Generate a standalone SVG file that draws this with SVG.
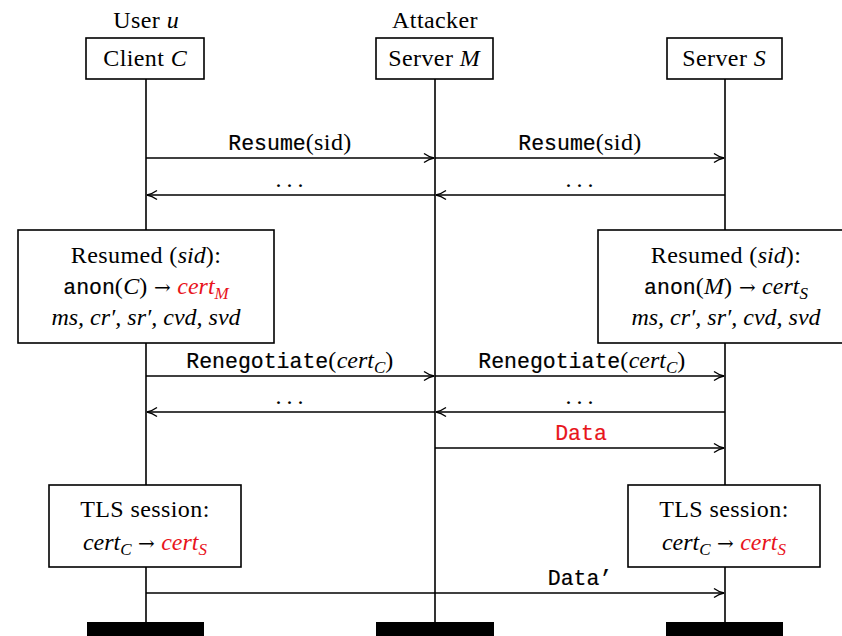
<svg xmlns="http://www.w3.org/2000/svg" width="842" height="636" viewBox="0 0 842 636">
<style>
.t{font-family:"Liberation Serif","DejaVu Serif",serif;font-size:24px;fill:#000;text-anchor:middle;letter-spacing:0.4px}
.i{font-style:italic;letter-spacing:0}
.m{font-family:"Liberation Mono","DejaVu Sans Mono",monospace;font-size:21.5px;letter-spacing:0;stroke:currentColor;stroke-width:0.2}
.r{fill:#e8141c;color:#e8141c}
.k{color:#000}
.a{font-family:"DejaVu Serif",serif;font-size:20px;letter-spacing:0}
.d{letter-spacing:5px}
.box{fill:#fff;stroke:#000;stroke-width:1.6}
.life{stroke:#000;stroke-width:1.6;fill:none}
.arr{stroke:#000;stroke-width:1.4;fill:none;marker-end:url(#ah)}
.sub{font-size:17px}
</style>
<defs>
<marker id="ah" viewBox="0 0 12 12" refX="11" refY="6" markerWidth="12" markerHeight="12" markerUnits="userSpaceOnUse" orient="auto">
<path d="M1,1.5 Q6,5 11,6 Q6,7 1,10.5" fill="none" stroke="#000" stroke-width="1.4"/>
</marker>
</defs>
<rect width="842" height="636" fill="#fff"/>
<g id="lifelines">
<line class="life" x1="146" y1="79" x2="146" y2="622"/>
<line class="life" x1="435" y1="79" x2="435" y2="622"/>
<line class="life" x1="725" y1="79" x2="725" y2="622"/>
</g>
<g id="client">
<text class="t" x="146" y="28">User <tspan class="i">u</tspan></text>
<rect class="box" x="86" y="38" width="118" height="41"/>
<text class="t" x="145" y="66">Client <tspan class="i">C</tspan></text>
<rect x="87" y="622" width="117" height="14" fill="#000"/>
</g>
<g id="attacker">
<text class="t" x="435" y="28">Attacker</text>
<rect class="box" x="376" y="38" width="117" height="41"/>
<text class="t" x="434" y="66">Server <tspan class="i">M</tspan></text>
<rect x="376" y="622" width="118" height="14" fill="#000"/>
</g>
<g id="server">
<rect class="box" x="667" y="38" width="115" height="41"/>
<text class="t" x="724" y="66">Server <tspan class="i">S</tspan></text>
<rect x="666" y="622" width="117" height="14" fill="#000"/>
</g>
<g id="connectors">
<line class="arr" x1="146" y1="158" x2="434" y2="158"/>
<line class="arr" x1="435" y1="158" x2="724" y2="158"/>
<line class="arr" x1="435" y1="195" x2="147" y2="195"/>
<line class="arr" x1="725" y1="195" x2="436" y2="195"/>
<line class="arr" x1="146" y1="376" x2="434" y2="376"/>
<line class="arr" x1="435" y1="376" x2="724" y2="376"/>
<line class="arr" x1="435" y1="412" x2="147" y2="412"/>
<line class="arr" x1="725" y1="412" x2="436" y2="412"/>
<line class="arr" x1="435" y1="448" x2="724" y2="448"/>
<line class="arr" x1="146" y1="593" x2="724" y2="593"/>
<text class="t" x="290" y="150"><tspan class="m k">Resume</tspan>(sid)</text>
<text class="t" x="580" y="150"><tspan class="m k">Resume</tspan>(sid)</text>
<text class="t d" x="292" y="187">...</text>
<text class="t d" x="582" y="187">...</text>
<text class="t" x="290" y="368"><tspan class="m k">Renegotiate</tspan>(<tspan class="i">cert</tspan><tspan class="i sub" dy="5">C</tspan><tspan dy="-5">)</tspan></text>
<text class="t" x="582" y="368"><tspan class="m k">Renegotiate</tspan>(<tspan class="i">cert</tspan><tspan class="i sub" dy="5">C</tspan><tspan dy="-5">)</tspan></text>
<text class="t d" x="292" y="404">...</text>
<text class="t d" x="582" y="404">...</text>
<text class="t m r" x="581" y="440">Data</text>
<text class="t m k" x="580" y="585">Data’</text>
</g>
<g id="resumed-left">
<rect class="box" x="18" y="230" width="256" height="113"/>
<text class="t" x="146" y="263">Resumed (<tspan class="i">sid</tspan>):</text>
<text class="t" x="146" y="294"><tspan class="m k">anon</tspan>(<tspan class="i">C</tspan>) <tspan class="a">→</tspan> <tspan class="i r">cert</tspan><tspan class="i r sub" dy="5">M</tspan></text>
<text class="t i" x="146" y="325">ms, cr′, sr′, cvd, svd</text>
</g>
<g id="resumed-right">
<rect class="box" x="598" y="230" width="250" height="113"/>
<text class="t" x="726" y="263">Resumed (<tspan class="i">sid</tspan>):</text>
<text class="t" x="726" y="294"><tspan class="m k">anon</tspan>(<tspan class="i">M</tspan>) <tspan class="a">→</tspan> <tspan class="i">cert</tspan><tspan class="i sub" dy="5">S</tspan></text>
<text class="t i" x="726" y="325">ms, cr′, sr′, cvd, svd</text>
</g>
<g id="tls-left">
<rect class="box" x="49" y="485" width="192" height="82"/>
<text class="t" x="145" y="517">TLS session:</text>
<text class="t" x="145" y="550"><tspan class="i">cert</tspan><tspan class="i sub" dy="5">C</tspan><tspan dy="-5"> </tspan><tspan class="a">→</tspan> <tspan class="i r">cert</tspan><tspan class="i r sub" dy="5">S</tspan></text>
</g>
<g id="tls-right">
<rect class="box" x="628" y="485" width="192" height="82"/>
<text class="t" x="724" y="517">TLS session:</text>
<text class="t" x="724" y="550"><tspan class="i">cert</tspan><tspan class="i sub" dy="5">C</tspan><tspan dy="-5"> </tspan><tspan class="a">→</tspan> <tspan class="i r">cert</tspan><tspan class="i r sub" dy="5">S</tspan></text>
</g>
</svg>
